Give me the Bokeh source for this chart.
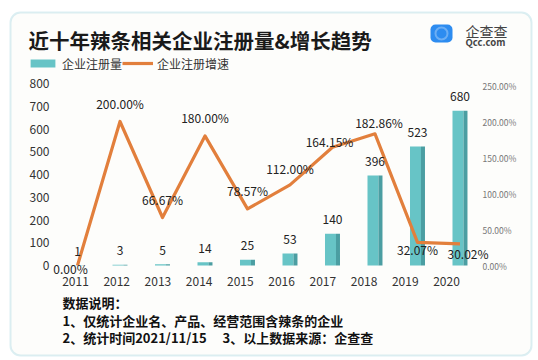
from bokeh.plotting import figure
from bokeh.models import (ColumnDataSource, Range1d, LinearAxis, FixedTicker,
                          PrintfTickFormatter, Label, BoxAnnotation, Legend, LegendItem)
from bokeh.transform import dodge
from bokeh.core.properties import value
from bokeh.embed import file_html
from bokeh.resources import INLINE

# ---------------- data ----------------
years = [2011, 2012, 2013, 2014, 2015, 2016, 2017, 2018, 2019, 2020]
counts = [1, 3, 5, 14, 25, 53, 140, 396, 523, 680]
growth = [0.00, 200.00, 66.67, 180.00, 78.57, 112.00, 164.15, 182.86, 32.07, 30.02]
count_ticks = [0, 100, 200, 300, 400, 500, 600, 700, 800]
growth_ticks = [0, 50, 100, 150, 200, 250]
title_text = "近十年辣条相关企业注册量&增长趋势"
series_names = ["企业注册量", "企业注册增速"]
notes = ["数据说明：",
         "1、仅统计企业名、产品、经营范围含辣条的企业",
         "2、统计时间2021/11/15\u3000 3、以上数据来源：企查查"]
brand_name = "企查查"
brand_site = "Qcc.com"

# ---------------- layout / style ----------------
FONT = "Noto Sans CJK SC"
W, H = 538, 360

def sy(py):          # page y (from top) -> screen units (from bottom)
    return H - py

# pixel geometry of the plot area (page px)
X0_PX, YEAR_PX = 77.0, 42.5        # 2011 bar centre, px per year
LX0_PX, LYEAR_PX = 75.0, 41.22     # 2011 tick label centre, px per year
ZERO_PX = 265.0                    # baseline (page y)
CNT_PX = 0.2275                    # px per registration
PCT_PX = 0.72                      # px per percent point
PLOT_L, PLOT_R, PLOT_B = 55.0, 478.0, 276.0

x0 = years[0] - X0_PX / YEAR_PX
lx0 = years[0] - LX0_PX / LYEAR_PX
x_range = Range1d(x0, x0 + W / YEAR_PX)
y_range = Range1d(-(H - ZERO_PX) / CNT_PX, ZERO_PX / CNT_PX)

g_dx = [-7, 0, 0, 0, 0, 0, -3, 4, 0, 8]
g_dy = [3, -18, -18, -18, -18, -16, -6, -11, 7, 10]

src = ColumnDataSource(dict(
    year=years, count=counts, growth=growth,
    count_lbl=[str(c) for c in counts],
    growth_lbl=[f"{g:.2f}%" for g in growth],
    gdx=g_dx, gdy=g_dy,
))

p = figure(width=W, height=H, output_backend="svg", toolbar_location=None,
           x_range=x_range, y_range=y_range, min_border=0,
           min_border_left=0, min_border_right=0, min_border_top=0,
           min_border_bottom=0, x_axis_location=None, y_axis_location=None,
           title=None)
p.extra_y_ranges = {"pct": Range1d(-(H - ZERO_PX) / PCT_PX, ZERO_PX / PCT_PX)}
p.extra_x_ranges = {"lab": Range1d(lx0, lx0 + W / LYEAR_PX)}
p.xgrid.visible = False
p.ygrid.visible = False
p.outline_line_color = None
p.background_fill_color = "white"
p.border_fill_color = "white"

# card border
p.add_layout(BoxAnnotation(left=10, right=531, top=sy(12), bottom=sy(355),
                           left_units="screen", right_units="screen",
                           top_units="screen", bottom_units="screen",
                           fill_color="#fdfdfb", fill_alpha=1,
                           line_color="#8cc9d8", line_width=2,
                           border_radius=10, level="underlay"))

# axes (pinned to the plot area so the canvas is not shrunk)
yl = LinearAxis(ticker=FixedTicker(ticks=count_ticks),
                fixed_location=x0 + PLOT_L / YEAR_PX)
yr = LinearAxis(y_range_name="pct", ticker=FixedTicker(ticks=growth_ticks),
                formatter=PrintfTickFormatter(format="%.2f%%"),
                fixed_location=x0 + PLOT_R / YEAR_PX)
xb = LinearAxis(x_range_name="lab", ticker=FixedTicker(ticks=years),
                fixed_location=(ZERO_PX - PLOT_B) / CNT_PX)
for ax in (yl, yr, xb):
    ax.axis_line_color = None
    ax.major_tick_line_color = None
    ax.minor_tick_line_color = None
    ax.major_tick_out = 0
    ax.major_tick_in = 0
    ax.major_label_text_font = FONT
yl.major_label_text_font_size = "12px"
yl.major_label_text_color = "#333333"
yl.major_label_standoff = 6
yr.major_label_text_font_size = "8.5px"
yr.major_label_text_color = "#777777"
yr.major_label_standoff = 4
xb.major_label_text_font_size = "12px"
xb.major_label_text_color = "#333333"
xb.major_label_standoff = 0
p.add_layout(yl, "left")
p.add_layout(yr, "right")
p.add_layout(xb, "below")

# bars (front + darker side for a 3D look)
bar = p.vbar(x=dodge("year", -0.047, range=p.x_range), top="count", bottom=0,
             width=0.259, source=src, fill_color="#67c4c6", line_color=None)
p.vbar(x=dodge("year", 0.129, range=p.x_range), top="count", bottom=0,
       width=0.094, source=src, fill_color="#4b9ea2", line_color=None)

# growth line
ln = p.line(x="year", y="growth", source=src, y_range_name="pct",
            line_color="#e27f3c", line_width=3.2, line_join="round")

# value labels
p.text(x="year", y="count", text="count_lbl", source=src, y_offset=-14,
       text_align="center", text_baseline="middle", text_font=value(FONT),
       text_font_size="12px", text_color="#222222")
p.text(x="year", y="growth", text="growth_lbl", source=src, y_range_name="pct",
       x_offset="gdx", y_offset="gdy", text_align="center",
       text_baseline="middle", text_font=value(FONT), text_font_size="12px",
       text_color="#222222")

# legend
legend = Legend(items=[LegendItem(label=series_names[0], renderers=[bar]),
                       LegendItem(label=series_names[1], renderers=[ln])],
                location=(27, sy(73)), orientation="horizontal",
                glyph_width=31, glyph_height=10, label_standoff=4, spacing=0,
                padding=0, margin=0, border_line_color=None,
                background_fill_alpha=0, label_text_font=FONT,
                label_text_font_size="12px", label_text_color="#333333",
                label_height=20)
p.add_layout(legend)

# title
p.add_layout(Label(x=28, y=sy(39), x_units="screen", y_units="screen",
                   text=title_text, text_font=FONT, text_font_size="20.5px",
                   text_font_style="bold", text_color="#1a1a1a",
                   text_baseline="middle"))

# logo
p.add_layout(BoxAnnotation(left=430, right=452, top=sy(24), bottom=sy(42),
                           left_units="screen", right_units="screen",
                           top_units="screen", bottom_units="screen",
                           fill_color="#2d8cf0", fill_alpha=1, line_color=None,
                           border_radius=5))
p.add_layout(BoxAnnotation(left=435, right=447, top=sy(27), bottom=sy(39),
                           left_units="screen", right_units="screen",
                           top_units="screen", bottom_units="screen",
                           fill_alpha=0, line_color="white", line_width=2,
                           border_radius=6))
p.add_layout(Label(x=465, y=sy(30), x_units="screen", y_units="screen",
                   text=brand_name, text_font=FONT, text_font_size="14px",
                   text_color="#444444", text_baseline="middle"))
p.add_layout(Label(x=465, y=sy(41), x_units="screen", y_units="screen",
                   text=brand_site, text_font=FONT, text_font_size="9.5px",
                   text_font_style="bold", text_color="#444444",
                   text_baseline="middle"))

# notes
for py, t in zip([302, 320, 337], notes):
    p.add_layout(Label(x=62, y=sy(py), x_units="screen", y_units="screen",
                       text=t, text_font=FONT, text_font_size="13px",
                       text_font_style="bold", text_color="#111111",
                       text_baseline="middle"))

open("out.html", "w").write(file_html(p, INLINE))
